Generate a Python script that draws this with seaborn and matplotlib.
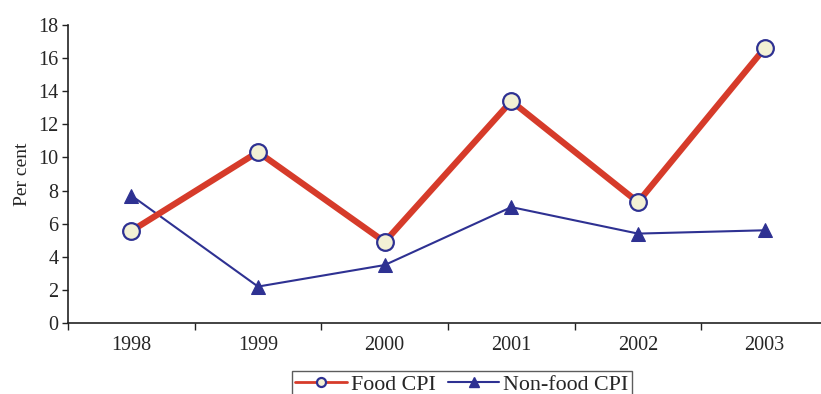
import numpy as np
import pandas as pd
import matplotlib
matplotlib.use("Agg")
import matplotlib.pyplot as plt
import seaborn as sns
from matplotlib.lines import Line2D

years = ["1998", "1999", "2000", "2001", "2002", "2003"]
food_cpi = [5.56, 10.33, 4.9, 13.4, 7.3, 16.6]
nonfood_cpi = [7.7, 2.2, 3.5, 7.0, 5.4, 5.6]
y_ticks = [0, 2, 4, 6, 8, 10, 12, 14, 16, 18]

sns.set_style("white")
plt.rcParams["font.family"] = ["Liberation Serif", "DejaVu Serif"]

red = "#D63B2A"
blue = "#2E3192"
cream = "#F3F1D5"

df = pd.DataFrame({"pos": np.arange(len(years)), "food": food_cpi, "nonfood": nonfood_cpi})

fig = plt.figure(figsize=(8.21, 3.94), dpi=100)
ax = fig.add_axes([68 / 821, 1 - 323 / 394, 760 / 821, 298 / 394])

sns.lineplot(data=df, x="pos", y="food", ax=ax, color=red, linewidth=4.5,
             marker="o", markersize=12, markerfacecolor=cream,
             markeredgecolor=blue, markeredgewidth=1.6, zorder=3)
sns.lineplot(data=df, x="pos", y="nonfood", ax=ax, color=blue, linewidth=1.5,
             marker="^", markersize=9.5, markerfacecolor=blue,
             markeredgecolor=blue, zorder=2)

ax.set_xlim(-0.5, len(years) - 0.5)
ax.set_ylim(0, 18)
ax.set_yticks(y_ticks)
ax.set_yticklabels([str(v) for v in y_ticks], fontsize=14.5)
ax.set_xticks(np.arange(len(years)))
ax.set_xticklabels(years, fontsize=14.5)
ax.set_xticks(np.arange(len(years) + 1) - 0.5, minor=True)
ax.tick_params(axis="x", which="major", bottom=True, length=0, pad=9)
ax.tick_params(axis="x", which="minor", bottom=True, length=5, width=1,
               color="#222222", direction="out")
ax.tick_params(axis="y", left=True, length=4, width=1, color="#222222",
               direction="out", pad=3)
ax.set_xlabel("")
ax.set_ylabel("Per cent", fontsize=14, labelpad=5)

for s in ["top", "right"]:
    ax.spines[s].set_visible(False)
for s in ["left", "bottom"]:
    ax.spines[s].set_color("#222222")
    ax.spines[s].set_linewidth(1.2)

handles = [
    Line2D([], [], color=red, linewidth=2, marker="o", markersize=6.5,
           markerfacecolor=cream, markeredgecolor=blue, markeredgewidth=1.6),
    Line2D([], [], color=blue, linewidth=1.5, marker="^", markersize=7.5,
           markerfacecolor=blue, markeredgecolor=blue),
]
leg = fig.legend(handles, ["Food CPI", "Non-food CPI"], loc="upper left",
                 bbox_to_anchor=(292 / 821, 1 - 371 / 394), ncol=2, fontsize=15.8,
                 frameon=True, fancybox=False, borderpad=0.15, handlelength=2.35,
                 handletextpad=0.18, columnspacing=0.55, borderaxespad=0)
leg.get_frame().set_edgecolor("#333333")
leg.get_frame().set_linewidth(1.0)

fig.savefig("out.png", dpi=100)
